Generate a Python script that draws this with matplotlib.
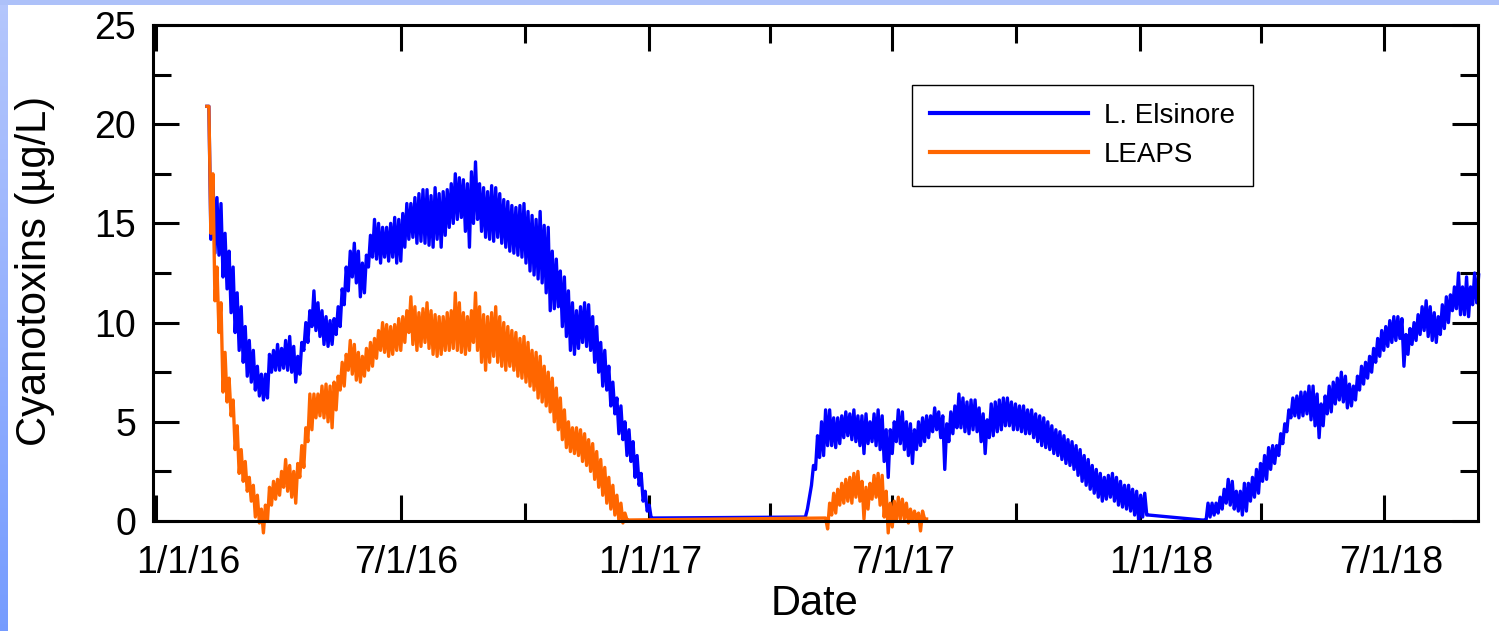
import numpy as np
import pandas as pd
import matplotlib
matplotlib.use("Agg")
import matplotlib.pyplot as plt
from matplotlib.transforms import ScaledTranslation

plt.rcParams['font.family'] = ['Liberation Sans', 'DejaVu Sans']

# probe readings: high and low of each 3-day window, per deployment run
elsinore_run1_start = "2016-02-08"
elsinore_run1_hi = [
    20.9, 17.3, 16.3, 16.0, 14.5, 13.6, 12.8, 11.5, 10.8, 9.8,
    9.1, 8.6, 7.8, 7.4, 7.4, 8.4, 8.6, 8.9, 8.7, 9.1,
    9.3, 8.8, 8.3, 9.0, 10.0, 10.6, 11.6, 11.0, 10.6, 10.3,
    10.1, 10.2, 10.8, 11.7, 12.8, 13.6, 14.0, 13.6, 13.0, 13.4,
    14.4, 15.2, 15.0, 14.8, 14.8, 15.0, 15.3, 15.2, 15.5, 16.0,
    16.0, 16.3, 16.5, 16.7, 16.7, 16.4, 16.8, 16.5, 16.6, 16.7,
    17.0, 17.5, 17.3, 17.2, 17.0, 17.6, 18.1, 17.0, 16.8, 16.6,
    16.9, 16.8, 16.5, 16.2, 16.1, 15.9, 15.8, 15.9, 16.0, 15.6,
    15.4, 15.2, 15.6, 14.9, 14.8, 13.6, 13.2, 12.6, 12.3, 11.6,
    11.0, 10.6, 10.8, 11.0, 10.9, 10.3, 9.8, 9.0, 8.6, 7.8,
    7.0, 6.2, 5.8, 5.0, 4.6, 4.0, 3.3, 2.4, 1.5, 0.8,
    0.15,
]
elsinore_run1_lo = [
    20.9, 14.2, 13.5, 13.4, 12.3, 11.7, 10.5, 9.5, 8.6, 8.0,
    7.3, 7.0, 6.6, 6.3, 6.1, 6.2, 7.5, 7.6, 7.6, 7.7,
    7.6, 7.5, 7.0, 7.4, 8.6, 9.0, 9.8, 9.6, 9.3, 8.9,
    8.8, 8.9, 9.4, 9.8, 10.9, 11.6, 12.3, 12.0, 11.3, 11.5,
    12.8, 13.3, 13.2, 13.0, 13.3, 13.1, 13.3, 13.0, 13.1, 13.8,
    14.2, 14.3, 14.0, 14.1, 14.0, 13.9, 13.8, 14.2, 13.8, 14.4,
    14.8, 15.0, 15.2, 15.3, 14.6, 13.8, 15.0, 15.2, 14.6, 14.3,
    14.2, 14.1, 14.3, 14.0, 13.8, 13.6, 13.5, 13.4, 13.3, 13.0,
    12.6, 12.4, 12.2, 12.0, 11.5, 10.6, 10.7, 10.8, 9.8, 9.3,
    8.6, 8.4, 8.7, 9.0, 8.8, 8.6, 8.0, 7.5, 6.8, 6.6,
    5.8, 5.4, 4.4, 4.1, 3.3, 3.0, 2.2, 1.8, 1.0, 0.5,
    0.15,
]

elsinore_run2_start = "2017-04-26"
elsinore_run2_hi = [
    0.2, 1.2, 2.8, 4.3, 5.0, 5.6, 5.6, 5.2, 5.2, 5.3,
    5.5, 5.4, 5.6, 5.3, 5.3, 5.4, 5.0, 5.4, 5.6, 5.3,
    4.6, 4.6, 5.0, 5.6, 5.5, 5.0, 4.9, 4.6, 5.0, 5.2,
    5.3, 5.3, 5.7, 5.5, 5.3, 4.9, 5.5, 5.8, 6.4, 6.2,
    6.0, 6.1, 6.1, 5.7, 5.4, 5.1, 5.9, 6.0, 6.1, 6.2,
    6.2, 6.0, 5.9, 5.8, 5.8, 5.6, 5.6, 5.4, 5.3, 5.2,
    5.0, 4.8, 4.6, 4.5, 4.3, 4.1, 4.0, 3.8, 3.6, 3.3,
    3.1, 2.8, 2.6, 2.4, 2.2, 2.3, 2.4, 2.2, 2.0, 1.8,
    1.8, 1.6, 1.5, 1.3, 1.4, 0.3,
]
elsinore_run2_lo = [
    0.2, 0.6, 1.8, 2.6, 3.2, 3.3, 3.8, 3.8, 3.7, 3.9,
    4.2, 4.3, 4.1, 4.0, 3.8, 3.4, 3.9, 4.0, 3.8, 3.6,
    3.0, 2.2, 3.4, 4.0, 3.9, 3.6, 3.3, 2.9, 3.6, 3.8,
    4.0, 4.2, 4.5, 4.6, 4.2, 2.6, 4.0, 4.4, 4.7, 4.7,
    4.5, 4.4, 4.6, 4.5, 4.0, 3.4, 4.2, 4.3, 4.5, 4.6,
    4.8, 4.8, 4.6, 4.6, 4.5, 4.4, 4.4, 4.2, 4.0, 3.8,
    3.7, 3.6, 3.4, 3.3, 3.1, 2.9, 2.8, 2.6, 2.3, 2.0,
    1.8, 1.6, 1.4, 1.2, 1.0, 1.1, 1.2, 1.0, 0.8, 0.7,
    0.6, 0.5, 0.3, 0.0, 0.2, 0.3,
]

elsinore_run3_start = "2018-02-16"
elsinore_run3_hi = [
    0.05, 0.9, 0.9, 0.9, 1.2, 1.6, 2.1, 2.0, 1.5, 1.5,
    1.9, 1.9, 2.2, 2.6, 2.9, 3.3, 3.7, 3.8, 3.8, 4.4,
    4.9, 5.6, 6.2, 6.3, 6.5, 6.5, 6.8, 6.8, 6.4, 5.9,
    6.3, 6.8, 7.0, 7.2, 7.5, 7.3, 6.9, 6.8, 7.3, 7.8,
    8.0, 8.3, 8.7, 9.2, 9.6, 9.8, 10.1, 10.3, 10.3, 10.2,
    9.4, 9.7, 10.0, 10.4, 10.8, 11.1, 10.8, 10.5, 10.3, 10.9,
    11.3, 11.4, 11.8, 12.5, 11.8, 12.3, 11.8, 12.5, 12.4,
]
elsinore_run3_lo = [
    0.05, 0.0, 0.2, 0.3, 0.4, 0.6, 0.9, 0.8, 0.6, 0.5,
    0.3, 0.5, 1.0, 1.2, 1.4, 2.0, 2.1, 2.6, 2.9, 3.3,
    3.9, 4.5, 5.2, 5.3, 5.2, 5.3, 5.4, 5.1, 4.8, 4.2,
    4.8, 5.4, 5.5, 5.9, 6.1, 6.0, 5.7, 5.8, 6.1, 6.6,
    6.9, 7.2, 7.5, 8.0, 8.3, 8.6, 8.8, 9.0, 9.1, 9.2,
    7.8, 8.4, 8.9, 9.1, 9.4, 9.6, 9.3, 9.1, 9.0, 9.4,
    9.7, 10.0, 10.6, 10.7, 10.4, 10.4, 10.3, 10.9, 11.0,
]

leaps_run1_start = "2016-02-08"
leaps_run1_hi = [
    20.9, 17.5, 12.8, 11.0, 8.5, 7.2, 6.1, 4.8, 3.6, 3.0,
    2.2, 1.8, 1.3, 0.6, 0.8, 1.7, 2.0, 2.1, 2.5, 3.1,
    2.8, 2.5, 2.9, 3.8, 4.7, 6.4, 6.4, 6.4, 6.8, 6.9,
    6.8, 7.0, 7.3, 8.0, 8.4, 9.1, 8.9, 8.5, 8.3, 8.7,
    9.0, 9.2, 9.6, 10.0, 9.9, 9.8, 9.9, 10.2, 10.3, 10.6,
    11.3, 10.8, 10.5, 10.7, 11.0, 10.6, 10.4, 10.3, 10.3, 10.5,
    10.6, 11.5, 11.0, 10.5, 10.3, 10.6, 11.5, 10.8, 10.4, 10.3,
    10.5, 10.8, 10.3, 10.0, 9.8, 9.6, 9.5, 9.2, 9.3, 9.0,
    8.6, 8.5, 8.3, 7.8, 7.5, 7.2, 6.7, 6.2, 5.6, 5.0,
    4.7, 4.7, 4.6, 4.4, 4.1, 3.9, 3.5, 3.1, 2.7, 2.2,
    1.8, 1.3, 0.9, 0.4, 0.05,
]
leaps_run1_lo = [
    20.9, 14.5, 11.1, 9.5, 6.5, 6.0, 5.3, 3.6, 2.4, 2.0,
    1.5, 1.0, 0.2, -0.1, -0.6, 0.0, 0.8, 1.1, 1.3, 1.7,
    1.5, 1.2, 0.9, 2.2, 2.7, 4.0, 4.6, 5.2, 5.3, 5.2,
    5.0, 4.7, 5.6, 6.6, 6.8, 7.6, 7.4, 7.1, 7.0, 7.3,
    7.6, 7.8, 8.2, 8.6, 8.5, 8.3, 8.4, 8.6, 8.6, 9.0,
    9.5, 8.9, 8.6, 8.8, 9.0, 8.7, 8.4, 8.3, 8.4, 8.6,
    8.6, 8.7, 8.6, 8.5, 8.4, 8.6, 9.0, 8.6, 8.0, 7.6,
    8.0, 8.3, 8.0, 7.8, 7.6, 7.8, 7.6, 7.3, 7.2, 7.0,
    6.8, 6.6, 6.2, 6.0, 5.8, 5.5, 5.0, 4.6, 4.1, 3.7,
    3.5, 3.4, 3.3, 3.0, 2.8, 2.5, 2.1, 1.7, 1.3, 0.9,
    0.6, 0.3, 0.0, -0.1, 0.05,
]

leaps_run2_start = "2017-05-11"
leaps_run2_hi = [
    0.15, 0.9, 1.4, 1.6, 1.9, 2.1, 2.2, 2.4, 2.5, 2.0,
    1.7, 1.9, 2.3, 2.4, 2.3, 1.5, 0.9, 1.0, 1.2, 1.1,
    0.9, 0.6, 0.5, 0.4, 0.5, 0.1,
]
leaps_run2_lo = [
    0.15, -0.4, 0.3, 0.4, 0.8, 0.9, 1.0, 0.9, 1.2, 1.0,
    0.1, 0.6, 1.1, 1.2, 0.8, 0.2, -0.6, -0.3, 0.0, 0.1,
    0.1, -0.1, 0.0, 0.0, -0.5, 0.1,
]

tick_dates = ["2016-01-01", "2016-07-01", "2017-01-01",
              "2017-07-01", "2018-01-01", "2018-07-01"]
tick_labels = ["1/1/16", "7/1/16", "1/1/17", "7/1/17", "1/1/18", "7/1/18"]
minor_dates = ["2016-10-01", "2017-04-01", "2017-10-01", "2018-04-01"]
label_shift_px = [33, 5, 2, 11, 21, 7]


def trace(start, hi, lo):
    # low then high of each window, half a window apart
    t0 = pd.Timestamp(start)
    xs, ys = [], []
    for i, (h, l) in enumerate(zip(hi, lo)):
        t = t0 + pd.Timedelta(days=3 * i)
        xs += [t, t + pd.Timedelta(hours=36)]
        ys += [l, h]
    return pd.Series(ys, index=xs)


# gaps between runs are joined by straight segments
elsinore = pd.concat([trace(elsinore_run1_start, elsinore_run1_hi, elsinore_run1_lo),
                      trace(elsinore_run2_start, elsinore_run2_hi, elsinore_run2_lo),
                      trace(elsinore_run3_start, elsinore_run3_hi, elsinore_run3_lo)])
leaps = pd.concat([trace(leaps_run1_start, leaps_run1_hi, leaps_run1_lo),
                   trace(leaps_run2_start, leaps_run2_hi, leaps_run2_lo)])

W, H = 1499, 631
fig = plt.figure(figsize=(W / 100, H / 100), dpi=100)

# slide backdrop: pale blue band along the top and left edges
bg = fig.add_axes([0, 0, 1, 1], zorder=-10)
img = np.ones((H, W, 3))
rows = np.linspace(0, 1, H)[:, None]
left = np.array([0.71, 0.78, 0.99]) * (1 - rows) + np.array([0.46, 0.61, 1.0]) * rows
img[:, :8, :] = left[:, None, :]
img[:5, :, :] = [0.68, 0.76, 0.98]
bg.imshow(img, aspect="auto", interpolation="nearest")
bg.axis("off")

ax = fig.add_axes([153 / W, 1 - 521 / H, (1478 - 153) / W, (521 - 25) / H])
ax.plot(elsinore.index, elsinore.values, color="#0000ff", lw=2.4,
        label="L. Elsinore", clip_on=False)
ax.plot(leaps.index, leaps.values, color="#ff6600", lw=2.4,
        label="LEAPS", clip_on=False)

ax.set_ylim(0, 25)
ax.set_xlim(pd.Timestamp("2015-12-30"), pd.Timestamp("2018-09-09"))
ax.set_yticks(np.arange(0, 26, 5))
ax.set_yticks(np.arange(2.5, 25, 5), minor=True)
ax.set_xticks(pd.to_datetime(tick_dates))
ax.set_xticks(pd.to_datetime(minor_dates), minor=True)
ax.set_xticklabels(tick_labels)

for s in ax.spines.values():
    s.set_linewidth(2.2)
    s.set_zorder(3)
ax.tick_params(which="both", direction="in", top=True, right=True, width=2.2)
ax.tick_params(which="major", length=19, labelsize=27)
ax.tick_params(which="minor", length=13)
ax.tick_params(axis="y", pad=12)
ax.tick_params(axis="x", pad=17)

for lab, dx in zip(ax.get_xticklabels(), label_shift_px):
    lab.set_transform(lab.get_transform() + ScaledTranslation(dx / 100, 0, fig.dpi_scale_trans))

fig.text(35 / W, 1 - 271 / H, "Cyanotoxins (µg/L)", rotation=90,
         ha="center", va="center", fontsize=30)
fig.text(815 / W, 1 - 604 / H, "Date", ha="center", va="center", fontsize=30)

leg = ax.legend(loc="upper left", bbox_to_anchor=(912 / W, 1 - 85 / H),
                bbox_transform=fig.transFigure, fontsize=20, frameon=True,
                fancybox=False, framealpha=1, edgecolor="black",
                handlelength=5.7, handletextpad=0.55, borderpad=0.65,
                labelspacing=0.45, borderaxespad=0)
leg.get_frame().set_linewidth(1.0)
for h in leg.get_lines():
    h.set_linewidth(3.0)

fig.savefig("out.png", dpi=100)
